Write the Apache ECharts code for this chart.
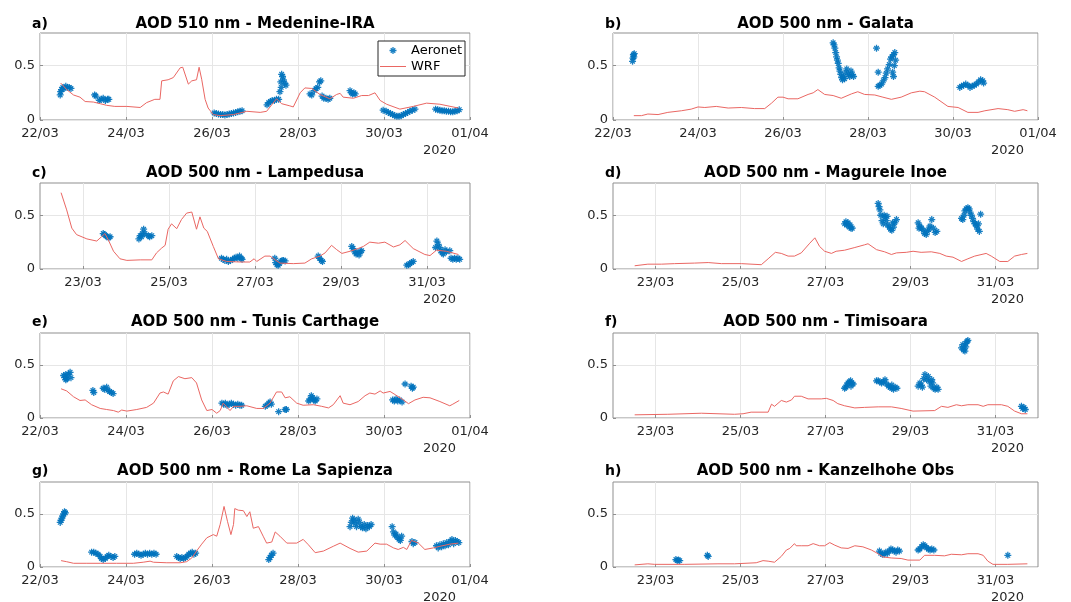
<!DOCTYPE html>
<html>
<head>
<meta charset="utf-8">
<script src="https://cdn.jsdelivr.net/npm/echarts@6/dist/echarts.min.js"></script>
<style>
  html, body { margin: 0; padding: 0; background: #fff; }
  #chart { width: 1071px; height: 602px; }
</style>
</head>
<body>
<div id="chart"></div>
<script>
  // x values are days of March (32 = 01/04/2020)
  var evenDays = [22, 24, 26, 28, 30, 32];
  var oddDays = [23, 25, 27, 29, 31];
  var yTicks = [0, 0.5];
  var yearLabel = '2020';
  var letters = ['a)', 'b)', 'c)', 'd)', 'e)', 'f)', 'g)', 'h)'];
  var titles = [
    'AOD 510 nm - Medenine-IRA', 'AOD 500 nm - Galata',
    'AOD 500 nm - Lampedusa', 'AOD 500 nm - Magurele Inoe',
    'AOD 500 nm - Tunis Carthage', 'AOD 500 nm - Timisoara',
    'AOD 500 nm - Rome La Sapienza', 'AOD 500 nm - Kanzelhohe Obs'
  ];

  // a) Medenine-IRA
  var aeroA = [
    [22.47,0.23],[22.48,0.26],[22.5,0.28],[22.53,0.3],[22.56,0.29],[22.6,0.31],[22.64,0.3],[22.68,0.3],[22.72,0.29],
    [23.27,0.23],[23.3,0.22],[23.38,0.18],[23.42,0.19],[23.47,0.2],[23.52,0.18],[23.57,0.19],[23.6,0.19],
    [26.05,0.065],[26.1,0.06],[26.15,0.055],[26.2,0.05],[26.25,0.05],[26.3,0.045],[26.35,0.05],[26.4,0.055],[26.45,0.06],[26.5,0.065],[26.55,0.07],[26.6,0.075],[26.65,0.08],[26.7,0.085],
    [27.28,0.14],[27.32,0.16],[27.36,0.17],[27.4,0.18],[27.45,0.18],[27.5,0.19],[27.55,0.19],[27.58,0.26],[27.6,0.35],[27.62,0.42],[27.64,0.4],[27.66,0.37],[27.69,0.34],[27.72,0.32],[27.61,0.3],
    [28.28,0.24],[28.32,0.23],[28.38,0.27],[28.42,0.29],[28.46,0.3],[28.5,0.35],[28.53,0.36],[28.56,0.22],[28.6,0.2],[28.65,0.2],[28.7,0.19],[28.74,0.2],
    [29.21,0.27],[29.24,0.25],[29.27,0.24],[29.3,0.25],[29.33,0.24],
    [29.98,0.09],[30.05,0.08],[30.1,0.07],[30.15,0.06],[30.2,0.05],[30.25,0.04],[30.3,0.035],[30.35,0.035],[30.4,0.04],[30.45,0.05],[30.5,0.06],[30.55,0.07],[30.6,0.08],[30.66,0.09],[30.72,0.1],
    [31.2,0.1],[31.25,0.095],[31.3,0.09],[31.35,0.085],[31.4,0.085],[31.45,0.08],[31.5,0.08],[31.55,0.075],[31.6,0.075],[31.65,0.08],[31.7,0.085],[31.75,0.095]
  ];
  var wrfA = [
    [22.48,0.34],[22.62,0.28],[22.78,0.23],[22.93,0.21],[23.05,0.17],[23.24,0.165],[23.4,0.15],[23.55,0.135],[23.74,0.125],
    [24.02,0.125],[24.33,0.115],[24.48,0.16],[24.67,0.19],[24.79,0.19],[24.83,0.36],[24.98,0.37],[25.1,0.39],[25.26,0.48],
    [25.32,0.485],[25.45,0.33],[25.53,0.36],[25.64,0.37],[25.7,0.485],[25.76,0.375],[25.84,0.19],[25.91,0.11],[26.03,0.05],
    [26.19,0.04],[26.5,0.05],[26.81,0.08],[27.12,0.07],[27.27,0.08],[27.39,0.14],[27.5,0.195],[27.62,0.15],[27.81,0.13],
    [27.89,0.12],[28.05,0.25],[28.16,0.295],[28.32,0.29],[28.51,0.235],[28.74,0.195],[28.9,0.235],[28.98,0.245],[29.05,0.21],
    [29.29,0.2],[29.48,0.225],[29.64,0.225],[29.79,0.25],[29.91,0.18],[30.06,0.145],[30.37,0.1],[30.68,0.125],[30.99,0.155],
    [31.3,0.145],[31.73,0.11]
  ];

  // b) Galata
  var aeroB = [
    [22.46,0.54],[22.47,0.57],[22.48,0.6],[22.49,0.58],[22.5,0.61],
    [27.18,0.71],[27.2,0.69],[27.22,0.66],[27.24,0.62],[27.26,0.58],[27.28,0.55],[27.3,0.52],[27.32,0.48],[27.34,0.45],
    [27.36,0.42],[27.38,0.39],[27.4,0.37],[27.42,0.4],[27.45,0.38],[27.48,0.44],[27.5,0.47],[27.54,0.42],[27.57,0.4],
    [27.6,0.45],[27.63,0.42],[27.66,0.4],
    [28.2,0.66],[28.24,0.44],[28.24,0.31],[28.28,0.32],[28.32,0.33],[28.36,0.36],[28.4,0.39],[28.43,0.43],[28.46,0.47],
    [28.5,0.51],[28.53,0.56],[28.56,0.58],[28.6,0.6],[28.63,0.62],[28.62,0.5],[28.58,0.44],[28.6,0.4],[28.65,0.55],
    [30.16,0.3],[30.2,0.31],[30.25,0.32],[30.3,0.33],[30.35,0.32],[30.4,0.3],[30.45,0.31],[30.5,0.32],[30.55,0.33],
    [30.6,0.35],[30.65,0.37],[30.7,0.36],[30.72,0.34]
  ];
  var wrfB = [
    [22.49,0.04],[22.67,0.04],[22.82,0.055],[23.06,0.05],[23.29,0.07],[23.61,0.085],[23.84,0.1],[24.0,0.12],[24.16,0.115],
    [24.43,0.125],[24.71,0.11],[25.02,0.115],[25.33,0.105],[25.57,0.105],[25.73,0.155],[25.88,0.21],[26.0,0.21],[26.12,0.195],
    [26.35,0.195],[26.59,0.235],[26.71,0.25],[26.82,0.28],[26.98,0.235],[27.18,0.225],[27.37,0.2],[27.61,0.24],[27.76,0.26],
    [27.92,0.235],[28.16,0.23],[28.35,0.21],[28.55,0.19],[28.78,0.21],[29.02,0.25],[29.22,0.265],[29.33,0.26],[29.57,0.21],
    [29.88,0.125],[30.12,0.115],[30.35,0.07],[30.59,0.07],[30.75,0.085],[31.06,0.105],[31.29,0.095],[31.45,0.08],[31.65,0.095],
    [31.75,0.085]
  ];

  // c) Lampedusa
  var aeroC = [
    [23.47,0.33],[23.5,0.32],[23.53,0.31],[23.56,0.3],[23.6,0.29],[23.63,0.3],
    [24.3,0.28],[24.33,0.31],[24.36,0.3],[24.38,0.33],[24.41,0.37],[24.44,0.33],[24.52,0.31],[24.55,0.3],[24.6,0.31],
    [26.22,0.1],[26.26,0.09],[26.3,0.08],[26.34,0.09],[26.38,0.07],[26.43,0.08],[26.48,0.09],[26.52,0.1],[26.56,0.11],
    [26.6,0.1],[26.64,0.12],[26.68,0.1],[26.7,0.09],
    [27.46,0.1],[27.48,0.06],[27.51,0.04],[27.54,0.035],[27.57,0.05],[27.6,0.07],[27.63,0.08],[27.66,0.08],[27.7,0.075],
    [28.47,0.12],[28.5,0.1],[28.54,0.08],[28.57,0.07],
    [29.25,0.21],[29.28,0.19],[29.32,0.16],[29.35,0.14],[29.38,0.15],[29.42,0.13],[29.45,0.16],[29.48,0.17],
    [30.53,0.035],[30.57,0.04],[30.6,0.05],[30.64,0.06],[30.68,0.07],
    [31.2,0.2],[31.23,0.26],[31.26,0.23],[31.29,0.2],[31.32,0.17],[31.35,0.15],[31.38,0.14],[31.42,0.18],[31.45,0.16],
    [31.53,0.17],[31.56,0.1],[31.6,0.09],[31.64,0.1],[31.68,0.09],[31.72,0.1],[31.76,0.09]
  ];
  var wrfC = [
    [22.49,0.71],[22.62,0.55],[22.74,0.38],[22.85,0.32],[23.09,0.28],[23.32,0.26],[23.43,0.3],[23.51,0.33],[23.59,0.27],
    [23.71,0.165],[23.86,0.095],[24.02,0.08],[24.33,0.085],[24.6,0.085],[24.71,0.15],[24.83,0.195],[24.91,0.22],[24.98,0.37],
    [25.06,0.42],[25.18,0.375],[25.29,0.46],[25.41,0.52],[25.53,0.53],[25.64,0.37],[25.72,0.485],[25.81,0.38],[25.89,0.35],
    [26.03,0.21],[26.15,0.095],[26.34,0.07],[26.65,0.065],[26.88,0.065],[26.98,0.095],[27.04,0.07],[27.23,0.12],[27.35,0.12],
    [27.47,0.085],[27.58,0.055],[27.89,0.05],[28.16,0.055],[28.32,0.095],[28.51,0.12],[28.63,0.15],[28.78,0.22],[28.9,0.18],
    [29.02,0.145],[29.21,0.165],[29.36,0.185],[29.52,0.21],[29.67,0.25],[29.87,0.24],[30.02,0.25],[30.22,0.205],[30.37,0.225],
    [30.49,0.265],[30.68,0.19],[30.95,0.135],[31.07,0.125],[31.22,0.175],[31.45,0.165],[31.73,0.135]
  ];

  // d) Magurele Inoe
  var aeroD = [
    [27.45,0.42],[27.48,0.44],[27.5,0.41],[27.53,0.43],[27.56,0.39],[27.6,0.38],[27.63,0.38],[27.58,0.41],
    [28.24,0.61],[28.26,0.58],[28.28,0.55],[28.3,0.5],[28.33,0.45],[28.36,0.42],[28.38,0.5],[28.4,0.48],[28.43,0.45],
    [28.46,0.41],[28.5,0.39],[28.53,0.37],[28.56,0.36],[28.6,0.39],[28.63,0.43],[28.67,0.46],[28.58,0.43],[28.45,0.49],
    [29.18,0.43],[29.22,0.4],[29.26,0.38],[29.3,0.36],[29.33,0.33],[29.37,0.32],[29.4,0.35],[29.43,0.37],[29.46,0.4],
    [29.5,0.46],[29.54,0.38],[29.58,0.34],[29.62,0.35],[29.2,0.38],
    [30.2,0.47],[30.23,0.46],[30.26,0.5],[30.28,0.54],[30.31,0.56],[30.35,0.57],[30.38,0.56],[30.4,0.53],[30.43,0.5],
    [30.46,0.47],[30.49,0.44],[30.52,0.42],[30.55,0.4],[30.58,0.37],[30.62,0.35],[30.65,0.51],[30.6,0.42]
  ];
  var wrfD = [
    [22.51,0.03],[22.82,0.045],[23.14,0.045],[23.45,0.05],[23.92,0.055],[24.24,0.06],[24.55,0.05],[25.02,0.05],[25.49,0.04],
    [25.65,0.095],[25.82,0.155],[25.96,0.145],[26.12,0.12],[26.27,0.12],[26.43,0.15],[26.63,0.24],[26.75,0.29],[26.86,0.21],
    [26.98,0.165],[27.14,0.145],[27.25,0.165],[27.45,0.175],[27.69,0.2],[27.92,0.225],[28.0,0.235],[28.2,0.18],[28.39,0.16],
    [28.55,0.135],[28.67,0.15],[28.9,0.155],[29.06,0.165],[29.25,0.155],[29.49,0.16],[29.69,0.145],[29.84,0.12],[30.0,0.11],
    [30.2,0.07],[30.35,0.095],[30.51,0.12],[30.78,0.145],[30.9,0.12],[31.1,0.07],[31.29,0.07],[31.45,0.12],[31.61,0.135],
    [31.75,0.145]
  ];

  // e) Tunis Carthage
  var aeroE = [
    [22.55,0.4],[22.58,0.38],[22.6,0.36],[22.63,0.37],[22.66,0.41],[22.7,0.43],[22.72,0.38],[22.6,0.41],
    [23.23,0.26],[23.25,0.24],
    [23.47,0.28],[23.5,0.27],[23.55,0.29],[23.58,0.26],[23.62,0.25],[23.66,0.24],[23.7,0.23],
    [26.23,0.14],[26.27,0.13],[26.31,0.14],[26.35,0.12],[26.4,0.13],[26.45,0.14],[26.5,0.13],[26.55,0.12],[26.6,0.13],
    [26.65,0.12],[26.69,0.12],
    [27.24,0.11],[27.28,0.12],[27.32,0.14],[27.35,0.15],[27.38,0.13],
    [27.55,0.06],[27.7,0.08],[27.73,0.08],
    [28.25,0.16],[28.28,0.18],[28.31,0.21],[28.34,0.19],[28.37,0.17],[28.4,0.16],[28.44,0.18],
    [30.2,0.17],[30.24,0.16],[30.28,0.18],[30.32,0.16],[30.36,0.17],[30.42,0.15],
    [30.49,0.32],[30.63,0.3],[30.66,0.28],[30.68,0.29]
  ];
  var wrfE = [
    [22.49,0.275],[22.62,0.255],[22.78,0.2],[22.93,0.165],[23.05,0.17],[23.2,0.125],[23.4,0.09],[23.55,0.08],[23.71,0.07],
    [23.82,0.055],[23.9,0.075],[24.02,0.065],[24.25,0.08],[24.48,0.1],[24.64,0.14],[24.79,0.235],[24.87,0.245],[24.98,0.225],
    [25.1,0.35],[25.22,0.39],[25.37,0.37],[25.53,0.38],[25.64,0.33],[25.76,0.17],[25.88,0.07],[26.0,0.08],[26.11,0.045],
    [26.19,0.07],[26.26,0.14],[26.42,0.07],[26.5,0.11],[26.65,0.11],[26.81,0.115],[27.04,0.09],[27.19,0.09],[27.35,0.14],
    [27.5,0.245],[27.62,0.245],[27.7,0.19],[27.81,0.2],[27.97,0.14],[28.12,0.12],[28.36,0.125],[28.55,0.11],[28.71,0.095],
    [28.82,0.125],[28.98,0.21],[29.05,0.14],[29.21,0.125],[29.4,0.155],[29.56,0.21],[29.67,0.235],[29.79,0.225],[29.91,0.255],
    [29.98,0.235],[30.14,0.25],[30.26,0.22],[30.45,0.17],[30.57,0.135],[30.72,0.17],[30.91,0.195],[31.07,0.19],[31.3,0.155],
    [31.53,0.115],[31.6,0.13],[31.75,0.165]
  ];

  // f) Timisoara
  var aeroF = [
    [27.45,0.28],[27.48,0.29],[27.5,0.31],[27.53,0.33],[27.56,0.34],[27.59,0.35],[27.62,0.33],[27.65,0.32],[27.6,0.3],
    [28.2,0.35],[28.24,0.35],[28.28,0.34],[28.32,0.33],[28.36,0.34],[28.4,0.36],[28.44,0.32],[28.48,0.3],[28.52,0.29],
    [28.56,0.28],[28.6,0.27],[28.64,0.29],[28.68,0.28],[28.56,0.31],
    [29.18,0.3],[29.22,0.33],[29.25,0.31],[29.28,0.29],[29.31,0.37],[29.34,0.41],[29.38,0.36],[29.42,0.39],[29.45,0.34],
    [29.48,0.3],[29.52,0.33],[29.55,0.28],[29.58,0.27],[29.62,0.29],[29.65,0.27],[29.5,0.36],
    [30.2,0.66],[30.23,0.69],[30.25,0.64],[30.28,0.63],[30.3,0.67],[30.33,0.72],[30.35,0.73],[30.3,0.7],
    [31.61,0.11],[31.64,0.09],[31.67,0.1],[31.7,0.08]
  ];
  var wrfF = [
    [22.51,0.03],[23.29,0.035],[24.08,0.045],[24.86,0.035],[25.06,0.04],[25.25,0.055],[25.65,0.055],[25.73,0.13],[25.8,0.11],
    [25.96,0.165],[26.08,0.15],[26.2,0.17],[26.27,0.205],[26.43,0.205],[26.59,0.18],[26.9,0.18],[27.02,0.185],[27.18,0.165],
    [27.29,0.135],[27.45,0.115],[27.69,0.095],[27.92,0.1],[28.24,0.105],[28.55,0.105],[28.78,0.09],[29.06,0.065],[29.57,0.07],
    [29.73,0.11],[29.88,0.1],[30.08,0.125],[30.2,0.115],[30.35,0.125],[30.59,0.125],[30.71,0.11],[30.82,0.125],[31.14,0.125],
    [31.29,0.11],[31.45,0.065],[31.61,0.04],[31.75,0.04]
  ];

  // g) Rome La Sapienza
  var aeroG = [
    [22.47,0.42],[22.49,0.44],[22.51,0.46],[22.53,0.48],[22.55,0.5],[22.57,0.52],[22.59,0.51],
    [23.2,0.14],[23.25,0.14],[23.3,0.13],[23.35,0.12],[23.4,0.1],[23.43,0.08],[23.47,0.07],[23.52,0.08],[23.56,0.1],
    [23.6,0.11],[23.65,0.1],[23.7,0.09],[23.74,0.1],
    [24.2,0.12],[24.25,0.13],[24.3,0.12],[24.35,0.11],[24.4,0.12],[24.45,0.13],[24.5,0.12],[24.55,0.13],[24.6,0.12],
    [24.65,0.13],[24.7,0.12],
    [25.18,0.1],[25.22,0.09],[25.26,0.08],[25.3,0.09],[25.34,0.08],[25.38,0.09],[25.42,0.1],[25.46,0.12],[25.5,0.13],
    [25.54,0.14],[25.58,0.12],[25.62,0.13],
    [27.32,0.07],[27.35,0.09],[27.38,0.11],[27.42,0.13],
    [29.21,0.38],[29.24,0.42],[29.27,0.46],[29.3,0.44],[29.33,0.41],[29.36,0.38],[29.4,0.45],[29.43,0.42],[29.46,0.38],
    [29.5,0.37],[29.54,0.4],[29.58,0.36],[29.62,0.39],[29.66,0.38],[29.7,0.4],
    [30.19,0.38],[30.22,0.33],[30.25,0.3],[30.28,0.31],[30.31,0.28],[30.35,0.26],[30.38,0.25],[30.41,0.29],
    [30.65,0.24],[30.68,0.22],[30.72,0.23],
    [31.22,0.2],[31.26,0.18],[31.3,0.21],[31.34,0.19],[31.38,0.22],[31.42,0.2],[31.46,0.23],[31.5,0.21],[31.54,0.24],
    [31.58,0.26],[31.62,0.22],[31.66,0.25],[31.7,0.24],[31.74,0.23]
  ];
  var wrfG = [
    [22.49,0.06],[22.62,0.05],[22.78,0.035],[23.09,0.035],[23.4,0.035],[23.78,0.035],[24.17,0.035],[24.4,0.045],[24.56,0.055],
    [24.64,0.045],[24.95,0.04],[25.26,0.04],[25.41,0.05],[25.53,0.085],[25.64,0.15],[25.76,0.215],[25.88,0.275],[26.03,0.305],
    [26.11,0.29],[26.19,0.4],[26.28,0.57],[26.36,0.43],[26.44,0.305],[26.5,0.4],[26.53,0.55],[26.61,0.535],[26.73,0.53],
    [26.81,0.475],[26.88,0.52],[26.96,0.365],[27.08,0.38],[27.19,0.29],[27.27,0.225],[27.39,0.235],[27.47,0.33],[27.58,0.29],
    [27.74,0.225],[27.97,0.225],[28.12,0.26],[28.24,0.21],[28.4,0.135],[28.59,0.15],[28.82,0.195],[28.98,0.225],[29.21,0.175],
    [29.4,0.14],[29.6,0.15],[29.79,0.225],[29.91,0.215],[30.06,0.215],[30.22,0.18],[30.33,0.165],[30.45,0.185],[30.53,0.165],
    [30.64,0.25],[30.8,0.225],[30.95,0.165],[31.15,0.18],[31.3,0.195],[31.53,0.215],[31.73,0.225]
  ];

  // h) Kanzelhohe Obs
  var aeroH = [
    [23.48,0.07],[23.51,0.06],[23.54,0.065],[23.57,0.06],
    [24.22,0.11],[24.24,0.1],
    [28.27,0.15],[28.3,0.13],[28.34,0.12],[28.38,0.12],[28.42,0.14],[28.46,0.13],[28.5,0.15],[28.54,0.17],[28.58,0.16],
    [28.62,0.15],[28.66,0.14],[28.7,0.16],[28.74,0.15],
    [29.18,0.16],[29.22,0.17],[29.26,0.19],[29.3,0.21],[29.34,0.2],[29.38,0.18],[29.42,0.17],[29.46,0.16],[29.5,0.17],
    [29.55,0.16],
    [31.29,0.11]
  ];
  var wrfH = [
    [22.51,0.02],[22.82,0.03],[22.98,0.025],[23.69,0.025],[24.47,0.03],[24.86,0.03],[25.37,0.04],[25.53,0.06],[25.65,0.055],
    [25.8,0.045],[25.96,0.1],[26.08,0.16],[26.16,0.175],[26.2,0.16],[26.27,0.22],[26.31,0.2],[26.43,0.2],[26.59,0.2],
    [26.71,0.22],[26.86,0.2],[26.98,0.2],[27.1,0.23],[27.22,0.205],[27.37,0.18],[27.53,0.175],[27.69,0.2],[27.88,0.19],
    [28.08,0.16],[28.24,0.125],[28.35,0.095],[28.55,0.085],[28.78,0.08],[28.94,0.065],[29.22,0.065],[29.33,0.11],[29.57,0.11],
    [29.8,0.105],[29.96,0.12],[30.2,0.115],[30.35,0.125],[30.59,0.125],[30.71,0.11],[30.82,0.055],[30.94,0.025],[31.29,0.025],
    [31.75,0.03]
  ];

  var aeroSets = [aeroA, aeroB, aeroC, aeroD, aeroE, aeroF, aeroG, aeroH];
  var wrfSets = [wrfA, wrfB, wrfC, wrfD, wrfE, wrfF, wrfG, wrfH];
  var tickSets = [evenDays, evenDays, oddDays, oddDays, evenDays, oddDays, evenDays, oddDays];

  var FONT = '"DejaVu Sans", "Liberation Sans", sans-serif';
  var BLUE = '#0072BD';
  var RED = '#EA6763';
  var BOX = '#8f8f8f';
  // MATLAB-like asterisk marker
  var STAR = 'path://M4.1,0L5.9,0L5.9,10L4.1,10Z M0,4.1L10,4.1L10,5.9L0,5.9Z ' +
             'M1.1,2.4L2.4,1.1L8.9,7.6L7.6,8.9Z M7.6,1.1L8.9,2.4L2.4,8.9L1.1,7.6Z';
  var LINE_ICON = 'path://M0,0L26,0L26,1L0,1Z';

  var colLeft = [40, 613];
  var colWidth = [430, 425];
  var rowTop = [33, 183, 333, 482];
  var rowHeight = [87, 86, 85, 85];
  var titleY = [24, 173, 322, 471];
  var letterX = [32, 605];

  function fmtDay(v) {
    if (v >= 32) return '01/04';
    return (v < 10 ? '0' : '') + v + '/03';
  }

  var grids = [], xAxes = [], yAxes = [], series = [], graphics = [];

  for (var i = 0; i < 8; i++) {
    var col = i % 2, row = Math.floor(i / 2);
    grids.push({
      left: colLeft[col], top: rowTop[row], width: colWidth[col], height: rowHeight[row],
      show: true, borderColor: BOX, borderWidth: 1, backgroundColor: '#fff'
    });
    xAxes.push({
      type: 'value', gridIndex: i, min: 22, max: 32,
      axisLine: { show: false },
      axisTick: { inside: true, length: 3, lineStyle: { color: BOX }, customValues: tickSets[i] },
      axisLabel: { customValues: tickSets[i], formatter: fmtDay, color: '#262626',
                   fontSize: 13, fontFamily: FONT, margin: 7 },
      splitLine: { show: true, lineStyle: { color: '#e6e6e6', width: 1 } }
    });
    yAxes.push({
      type: 'value', gridIndex: i, min: 0, max: 0.8,
      axisLine: { show: false },
      axisTick: { inside: true, length: 3, lineStyle: { color: BOX }, customValues: yTicks },
      axisLabel: { customValues: yTicks, color: '#262626', fontSize: 13, fontFamily: FONT, margin: 5 },
      splitLine: { show: true, lineStyle: { color: '#e6e6e6', width: 1 } }
    });
    series.push({
      name: 'Aeronet', type: 'scatter', xAxisIndex: i, yAxisIndex: i,
      data: aeroSets[i], symbol: STAR, symbolSize: 7,
      itemStyle: { color: BLUE, opacity: 0.9 }, z: 2
    });
    series.push({
      name: 'WRF', type: 'line', xAxisIndex: i, yAxisIndex: i,
      data: wrfSets[i], showSymbol: false, symbol: 'none',
      lineStyle: { color: RED, width: 1 }, itemStyle: { color: RED }, z: 3
    });

    var cx = colLeft[col] + colWidth[col] / 2;
    graphics.push({
      type: 'text', x: cx, y: titleY[row],
      style: { text: titles[i], align: 'center', verticalAlign: 'middle',
               font: 'bold 15px ' + FONT, fill: '#000' }
    });
    graphics.push({
      type: 'text', x: letterX[col], y: titleY[row],
      style: { text: letters[i], align: 'left', verticalAlign: 'middle',
               font: 'bold 14px ' + FONT, fill: '#000' }
    });
    graphics.push({
      type: 'text', x: colLeft[col] + colWidth[col] - 14, y: rowTop[row] + rowHeight[row] + 31,
      style: { text: yearLabel, align: 'right', verticalAlign: 'middle',
               font: '13px ' + FONT, fill: '#262626' }
    });
  }

  var chart = echarts.init(document.getElementById('chart'), null, { renderer: 'canvas' });
  chart.setOption({
    animation: false,
    backgroundColor: '#fff',
    grid: grids,
    xAxis: xAxes,
    yAxis: yAxes,
    legend: {
      data: [
        { name: 'Aeronet' },
        { name: 'WRF', icon: LINE_ICON, itemStyle: { color: RED } }
      ],
      orient: 'vertical', left: 378, top: 41,
      backgroundColor: '#fff', borderColor: '#262626', borderWidth: 1,
      padding: [3, 3, 3, 2], itemGap: 3, itemWidth: 26, itemHeight: 7,
      textStyle: { fontSize: 13, fontFamily: FONT, color: '#000' }
    },
    series: series,
    graphic: graphics
  });
</script>
</body>
</html>
